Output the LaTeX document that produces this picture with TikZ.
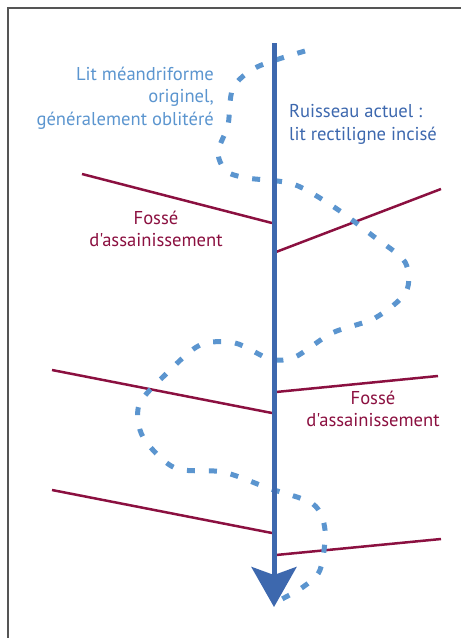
\documentclass[tikz,border=0pt]{standalone}
\usepackage{fontspec}
\setmainfont[Ligatures=TeXOff]{PT Sans}
\usetikzlibrary{arrows.meta}
\definecolor{fossecol}{HTML}{8B1040}
\definecolor{ruisseaucol}{HTML}{3D68AE}
\definecolor{meandrecol}{HTML}{5B95CF}
\definecolor{cadrecol}{HTML}{555555}
\tikzset{
  fosse/.style={draw=fossecol, line width=2.5pt},
  meandre/.style={draw=meandrecol, line width=5pt, dash pattern=on 8pt off 14pt},
  ruisseau/.style={draw=ruisseaucol, line width=5pt, -{Stealth[length=40pt, width=45pt, inset=8pt]}},
  txt/.style={inner sep=0pt, font=\fontsize{18.6}{22.5}\selectfont}
}

\begin{document}
\begin{tikzpicture}[x=1pt, y=-1pt]
  \useasboundingbox (0,0) rectangle (461,638);
  \draw [cadrecol, line width=2pt] (8,638) -- (8,8) -- (461,8);
  \coordinate (s0) at (274,43);
  \coordinate (s1) at (274,607);
  \coordinate (f1a) at (82,174);
  \coordinate (f1b) at (272,223);
  \coordinate (f2a) at (276,252);
  \coordinate (f2b) at (441,189);
  \coordinate (f3a) at (52,370);
  \coordinate (f3b) at (272,413);
  \coordinate (f4a) at (276,392);
  \coordinate (f4b) at (438,376);
  \coordinate (f5a) at (52,490);
  \coordinate (f5b) at (272,533);
  \coordinate (f6a) at (276,555);
  \coordinate (f6b) at (441,539);
  \draw [fosse] (f1a) -- (f1b);
  \draw [fosse] (f2a) -- (f2b);
  \draw [fosse] (f3a) -- (f3b);
  \draw [fosse] (f4a) -- (f4b);
  \draw [fosse] (f5a) -- (f5b);
  \draw [fosse] (f6a) -- (f6b);
  \draw [meandre] plot [smooth] coordinates {(305,51) (257,67) (233,88) (228,125) (218,152)
    (226,171) (247,178) (293,184) (334,207) (373,236) (405,262) (406,292) (375,318)
    (332,333) (295,357) (270,359) (235,343) (200,345) (165,375) (139,405) (143,437)
    (175,468) (223,472) (268,488) (313,504) (325,530) (320,570) (303,587) (280,600)};
  \draw [ruisseau] (s0) -- (s1);
  \node [txt, meandrecol, align=right, anchor=north east] (meandre) at (214,66.5)
    {Lit méandriforme\\originel,\\généralement oblitéré};
  \node [txt, ruisseaucol, align=left, anchor=north west] (ruisseau) at (289,104.5)
    {Ruisseau actuel :\\lit rectiligne incisé};
  \node [txt, fossecol, align=center] (fosse1) at (156,229) {Fossé\\d'assainissement};
  \node [txt, fossecol, align=center] (fosse2) at (373,409) {Fossé\\d'assainissement};
\end{tikzpicture}
\end{document}
